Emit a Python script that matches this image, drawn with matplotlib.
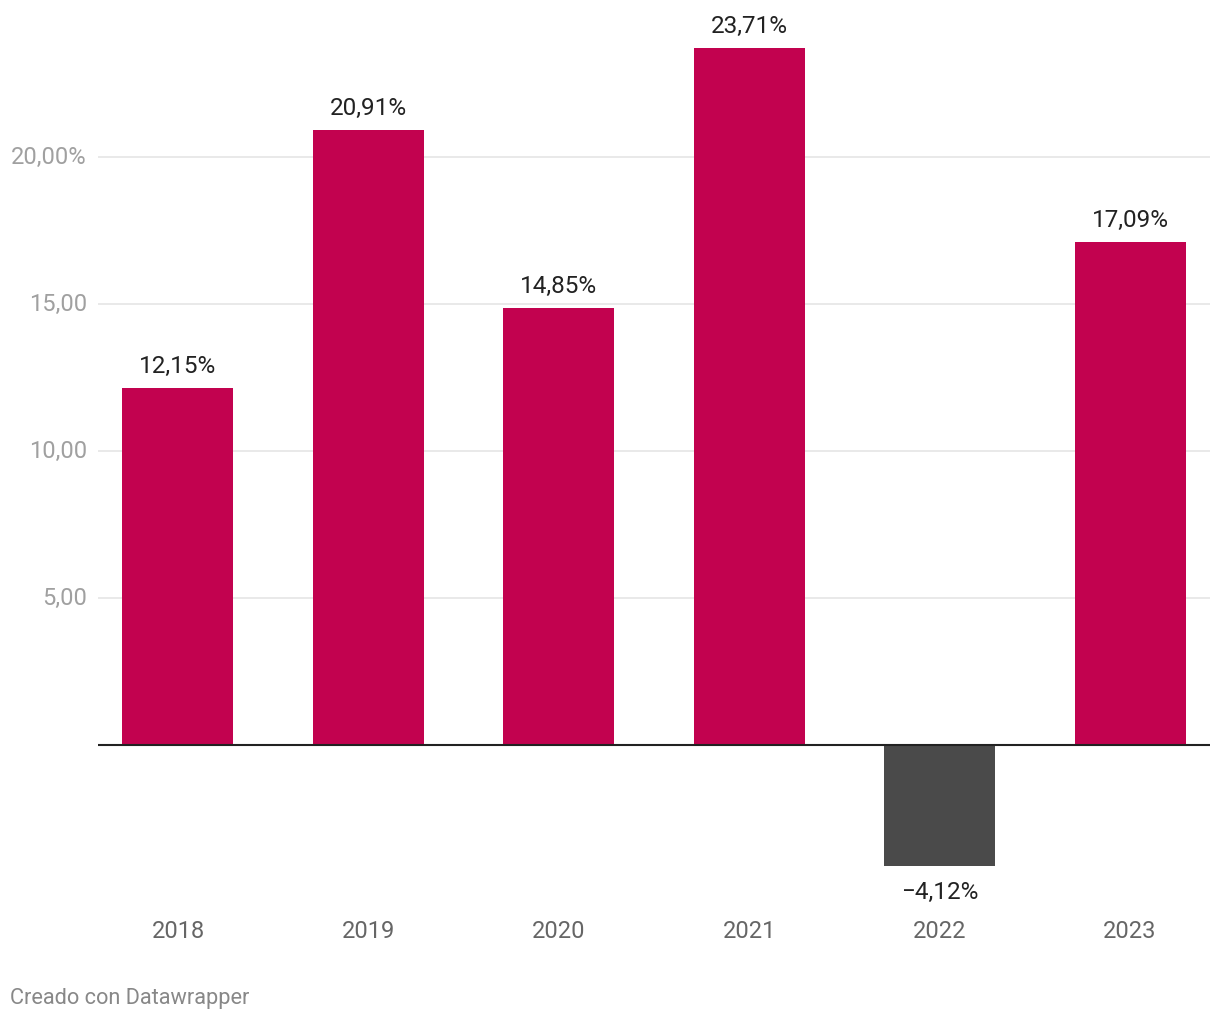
import matplotlib
matplotlib.use("Agg")
import matplotlib.pyplot as plt

years = ["2018", "2019", "2020", "2021", "2022", "2023"]
values = [12.15, 20.91, 14.85, 23.71, -4.12, 17.09]
yticks = [5, 10, 15, 20]
ytick_labels = ["5,00", "10,00", "15,00", "20,00%"]

plt.rcParams['font.family'] = ['Roboto', 'DejaVu Sans']

W, H = 1220, 1020
fig = plt.figure(figsize=(W / 100, H / 100), dpi=100)
# axes placed in pixel terms: x 98..1210, y 0..900
ax = fig.add_axes([98 / W, (H - 901) / H, 1112 / W, 901 / H])

x = range(len(years))
colors = ["#c2024f" if v >= 0 else "#4a4a4a" for v in values]
ax.bar(x, values, width=0.583, color=colors, zorder=2)

ax.set_xlim(-0.42, len(years) - 1 + 0.42)
ax.set_ylim(-5.272, 25.37)

ax.set_yticks(yticks)
ax.set_yticklabels(ytick_labels)
ax.grid(axis="y", color="#e5e5e5", linewidth=1.2, zorder=0)
ax.axhline(0, color="#222222", linewidth=1.5, zorder=3)

ax.set_xticks(list(x))
ax.set_xticklabels(years)
ax.tick_params(axis="x", length=0, pad=14, labelsize=17, labelcolor="#666666")
ax.tick_params(axis="y", length=0, pad=8, labelsize=17, labelcolor="#a0a0a0")
for lbl in ax.get_yticklabels():
    lbl.set_verticalalignment("center")

for s in ax.spines.values():
    s.set_visible(False)

for i, v in enumerate(values):
    txt = f"{abs(v):.2f}".replace(".", ",") + "%"
    if v < 0:
        txt = "\u2212" + txt
        ax.annotate(txt, (i, v), xytext=(0, -10), textcoords="offset points",
                    ha="center", va="top", fontsize=17.5, color="#222222")
    else:
        ax.annotate(txt, (i, v), xytext=(0, 8), textcoords="offset points",
                    ha="center", va="bottom", fontsize=17.5, color="#222222")

fig.text(10 / W, 1 - 999 / H, "Creado con Datawrapper", fontsize=15.7,
         color="#888888", ha="left", va="center")

fig.savefig("out.png", dpi=100)
